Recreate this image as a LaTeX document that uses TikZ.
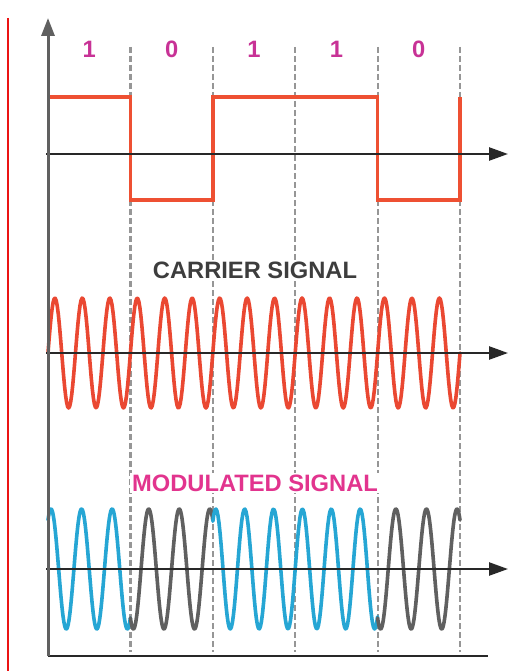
\documentclass[tikz,border=0pt]{standalone}
\usepackage{fontspec}
\setmainfont{Liberation Sans}
\usepackage{tikz}
\usetikzlibrary{arrows.meta}
\definecolor{sqred}{RGB}{238,80,50}
\definecolor{carred}{RGB}{234,72,50}
\definecolor{modblue}{RGB}{38,166,212}
\definecolor{modgray}{RGB}{96,96,96}
\definecolor{bitpink}{RGB}{200,50,150}
\definecolor{labpink}{RGB}{226,52,142}
\definecolor{axisc}{RGB}{40,40,40}
\definecolor{gridc}{RGB}{150,150,150}
\definecolor{sidered}{RGB}{235,20,20}

\begin{document}
\begin{tikzpicture}[x=1pt, y=-1pt,
  bit/.style={font=\fontsize{23.7}{28}\selectfont\bfseries, text=bitpink, inner sep=1pt},
  sigtitle/.style={font=\fontsize{23.7}{28}\selectfont\bfseries, fill=white, inner sep=2pt},
  axisarr/.style={-{Triangle[length=19pt, width=13pt]}, line width=2.4pt, color=axisc},
  wave/.style={line width=3.6pt, line join=round, line cap=round},
  boundary/.style={dash pattern=on 6pt off 3pt, line width=2.2pt, color=gridc}
]
  \fill[white] (0,0) rectangle (509,671);
  \useasboundingbox (0,0) rectangle (509,671);
  \draw[sidered, line width=1.5pt] (8,18) -- (8,671);

  % bit boundaries
  \foreach \k in {1,...,5}
    \draw[boundary] ({48+82.4*\k},47) -- ({48+82.4*\k},652);
  \foreach \b [count=\k] in {1,0,1,1,0}
    \node[bit] (bit\k) at ({48+82.4*(\k-0.5)},49) {\b};

  % data
  \draw[wave, sqred, line cap=butt, line join=miter] (48,97) -- (130.4,97) -- (130.4,200) -- (212.8,200)
    -- (212.8,97) -- (377.6,97) -- (377.6,200) -- (460,200) -- (460,97);

  % carrier
  \node[sigtitle, text=axisc!90] (carrierlab) at (255,270) {CARRIER SIGNAL};
  \draw[wave, carred] plot[domain=48:460, samples=400] (\x,{353-55*sin(13.1068*(\x-48))});

  % modulated
  \node[sigtitle, text=labpink] (modlab) at (255,483) {MODULATED SIGNAL};
  \foreach \a/\c/\n/\s/\col in {48/130.4/5/1/modblue, 130.4/212.8/5/-1/modgray,
                               212.8/377.6/11/1/modblue, 377.6/460/5/-1/modgray}
    \draw[wave, \col] plot[domain=\a:\c, samples=160]
      (\x,{569-60*(\s)*cos((180*\n/(\c-\a-6))*(\x-\a-3))});

  % axes
  \coordinate (o) at (48,656);
  \coordinate (ytop) at (48,18);
  \coordinate (xend) at (488,656);
  \foreach \y/\nm in {154/data, 353/carrier, 569/mod} {
    \coordinate (\nm0) at (46,\y);
    \coordinate (\nm1) at (508,\y);
    \draw[axisarr] (\nm0) -- (\nm1);
  }
  \draw[line width=2.4pt, axisc] (o) -- (xend);
  \draw[-{Triangle[length=18pt, width=13pt]}, line width=3pt, color=modgray] (o) -- (ytop);
\end{tikzpicture}
\end{document}
